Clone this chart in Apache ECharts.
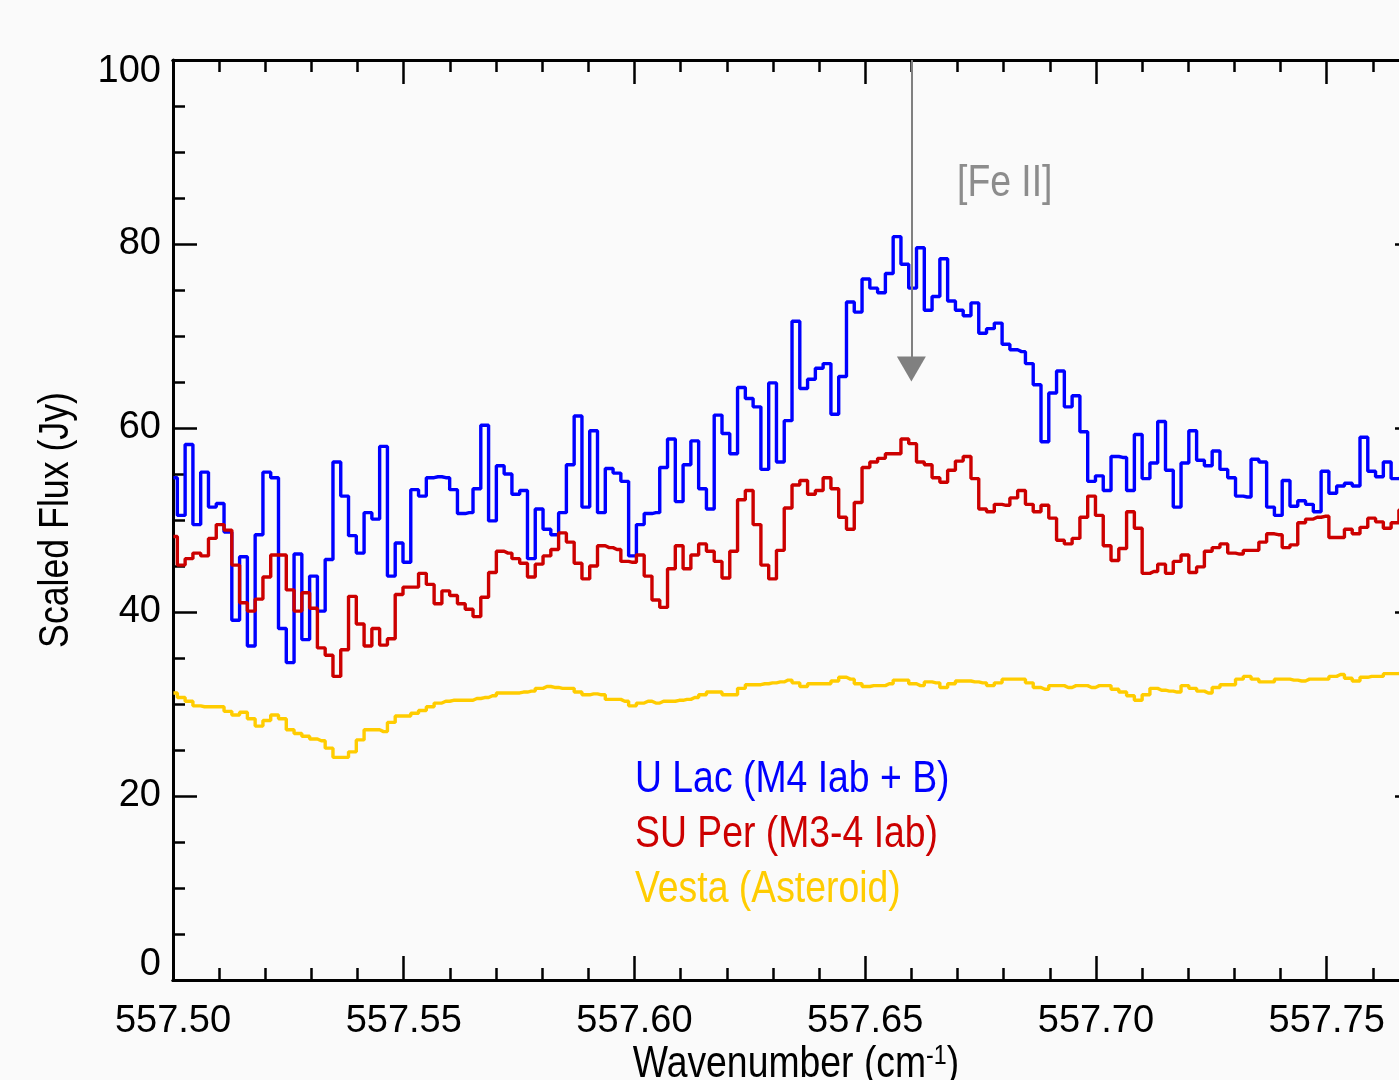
<!DOCTYPE html>
<html>
<head>
<meta charset="utf-8">
<title>Scaled Flux vs Wavenumber</title>
<script src="https://cdn.jsdelivr.net/npm/echarts@6/dist/echarts.min.js"></script>
<style>
  html, body { margin: 0; padding: 0; background: #fafafa; }
  #chart { width: 1399px; height: 1080px; }
</style>
</head>
<body>
<div id="chart"></div>
<script>
// Spectrum bins: first bin centre and bin width (cm^-1)
const FIRST_BIN = 557.5001;
const BIN_WIDTH = 0.001686;

// U Lac (M4 Iab + B)
const uLacFlux = [
  54.6, 50.5, 58.2, 49.5, 55.2, 51.4, 51.8, 48.7, 39.1, 46.0,
  36.3, 48.4, 55.2, 54.6, 38.2, 34.5, 46.3, 37.0, 43.9, 40.1,
  45.7, 56.3, 52.6, 48.3, 46.4, 50.8, 50.1, 58.0, 43.9, 47.5,
  45.4, 53.3, 52.6, 54.6, 54.7, 54.6, 53.3, 50.7, 50.8, 53.4,
  60.3, 49.9, 55.9, 55.0, 52.8, 53.2, 45.8, 51.2, 49.0, 48.4,
  50.8, 56.0, 61.3, 51.4, 59.7, 50.8, 55.6, 55.1, 54.2, 46.1,
  49.5, 50.7, 50.8, 55.7, 58.8, 52.0, 56.0, 58.6, 53.4, 51.2,
  61.4, 59.4, 57.2, 64.4, 63.2, 62.3, 55.5, 64.9, 56.3, 60.8,
  71.6, 64.3, 65.3, 66.5, 67.0, 61.5, 65.6, 73.7, 72.6, 76.2,
  75.2, 74.7, 76.8, 80.8, 77.8, 75.2, 79.6, 72.8, 74.3, 78.4,
  73.8, 72.8, 72.2, 73.6, 70.3, 70.8, 71.4, 69.1, 68.5, 68.3,
  67.0, 64.7, 58.5, 63.8, 66.2, 62.3, 63.5, 59.6, 54.2, 54.8,
  53.2, 56.9, 56.8, 53.2, 59.3, 54.5, 56.2, 60.7, 55.4, 51.4,
  56.2, 59.7, 56.5, 55.9, 57.5, 55.5, 54.6, 52.6, 52.5, 56.6,
  56.3, 51.4, 50.5, 54.3, 51.5, 52.1, 51.7, 50.9, 55.3, 52.9,
  53.7, 54.0, 53.7, 59.0, 55.3, 54.7, 56.3, 54.5, 54.6
];

// SU Per (M3-4 Iab)
const suPerFlux = [
  48.2, 45.1, 45.8, 46.4, 46.1, 48.0, 49.5, 48.9, 45.1, 41.0,
  40.1, 41.4, 43.8, 46.2, 46.2, 42.4, 40.1, 42.1, 40.4, 36.1,
  35.3, 33.0, 35.9, 41.7, 38.7, 36.3, 38.2, 36.4, 37.1, 41.9,
  42.7, 42.7, 44.2, 43.0, 40.9, 42.3, 41.8, 40.9, 40.3, 39.5,
  41.6, 44.3, 46.6, 46.4, 45.8, 45.3, 43.8, 45.2, 46.1, 46.8,
  48.6, 47.6, 45.3, 43.6, 45.0, 47.2, 47.0, 46.8, 45.5, 45.4,
  46.2, 43.9, 41.3, 40.5, 44.7, 47.2, 44.7, 46.2, 47.4, 46.6,
  45.5, 43.7, 46.6, 52.2, 53.2, 49.5, 45.1, 43.6, 46.7, 51.3,
  53.8, 54.3, 52.8, 53.2, 54.6, 53.4, 50.3, 49.0, 51.9, 55.7,
  56.3, 56.7, 57.2, 57.2, 58.8, 58.3, 56.3, 56.0, 54.6, 54.1,
  55.4, 56.4, 56.9, 54.5, 51.2, 50.9, 51.7, 51.6, 52.4, 53.2,
  51.7, 50.9, 51.6, 50.2, 47.8, 47.4, 48.0, 50.3, 52.6, 50.5,
  47.2, 45.6, 46.9, 50.9, 49.1, 44.2, 44.4, 45.2, 44.2, 45.5,
  46.2, 44.3, 44.9, 46.6, 47.0, 47.4, 46.4, 46.3, 46.7, 46.7,
  47.6, 48.5, 48.4, 47.0, 47.3, 49.7, 50.1, 50.3, 50.4, 48.1,
  48.1, 49.0, 48.5, 49.2, 50.2, 49.8, 49.1, 49.7, 51.1
];

// Vesta (Asteroid)
const vestaFlux = [
  31.2, 30.7, 30.3, 29.8, 29.7, 29.7, 29.7, 29.2, 28.8, 29.1,
  28.4, 27.6, 28.2, 28.8, 28.4, 27.2, 26.8, 26.5, 26.2, 26.0,
  25.2, 24.2, 24.2, 24.8, 26.1, 27.2, 27.2, 27.0, 28.0, 28.7,
  28.7, 29.0, 29.3, 29.7, 30.1, 30.3, 30.4, 30.4, 30.4, 30.6,
  30.7, 30.9, 31.2, 31.2, 31.2, 31.3, 31.4, 31.7, 31.9, 31.8,
  31.7, 31.7, 31.3, 31.0, 31.1, 31.0, 30.5, 30.5, 30.3, 29.8,
  30.1, 30.3, 30.1, 30.3, 30.3, 30.4, 30.5, 30.7, 31.0, 31.3,
  31.3, 31.0, 31.0, 31.7, 32.1, 32.1, 32.2, 32.3, 32.4, 32.6,
  32.3, 31.9, 32.2, 32.2, 32.2, 32.5, 32.9, 32.7, 32.2, 31.9,
  32.0, 32.0, 32.2, 32.6, 32.6, 32.2, 32.0, 32.4, 32.3, 31.8,
  32.2, 32.5, 32.5, 32.4, 32.3, 32.0, 32.3, 32.7, 32.7, 32.7,
  32.3, 31.8, 31.6, 32.0, 32.0, 31.8, 32.0, 32.0, 31.8, 32.0,
  32.0, 31.6, 31.3, 30.9, 30.4, 31.0, 31.7, 31.5, 31.4, 31.3,
  32.0, 31.7, 31.4, 31.2, 31.8, 32.1, 32.1, 32.7, 33.0, 32.7,
  32.4, 32.4, 32.7, 32.7, 32.6, 32.5, 32.7, 32.7, 32.7, 33.0,
  33.2, 32.8, 32.5, 32.9, 33.0, 33.0, 33.3, 33.3, 33.4
];

// Axis ranges and ticks
const X_MIN = 557.50;
const X_MAX = 557.77;
const X_MAJOR = 0.05;
const X_MINOR = 0.01;
const Y_MIN = 0;
const Y_MAX = 100;
const Y_MAJOR = 20;

// [Fe II] line marker
const FE_II_WAVENUMBER = 557.66;
const FE_II_ARROW_TOP = 100;
const FE_II_ARROW_END = 66.4;

// no narrow font installed: plain Liberation Sans, squeezed where we can
const FONT = "'Liberation Sans', Arial, sans-serif";
const NARROW = 0.83;

// pair each flux value with its bin centre
function toPoints(flux) {
  return flux.map((v, i) => [FIRST_BIN + i * BIN_WIDTH, v]);
}

function stepSeries(name, flux, color) {
  return {
    name: name,
    type: 'line',
    step: 'middle',
    xAxisIndex: 0,
    yAxisIndex: 0,
    showSymbol: false,
    silent: true,
    animation: false,
    data: toPoints(flux),
    lineStyle: { color: color, width: 3.4 }
  };
}

// one x axis (bottom or top); major axes carry the long ticks
function makeXAxis(position, interval, tickLen, withLabels) {
  return {
    type: 'value',
    position: position,
    min: X_MIN,
    max: X_MAX,
    interval: interval,
    axisLine: { show: true, onZero: false, lineStyle: { color: '#000', width: 3 } },
    axisTick: { show: true, inside: true, length: tickLen, lineStyle: { color: '#000', width: 2.5 } },
    axisLabel: {
      show: withLabels,
      showMaxLabel: false,
      margin: 23,
      color: '#000',
      fontSize: 38,
      fontFamily: FONT,
      formatter: (v) => v.toFixed(2)
    },
    splitLine: { show: false }
  };
}

function makeYAxis(position, withLabels) {
  return {
    type: 'value',
    position: position,
    min: Y_MIN,
    max: Y_MAX,
    interval: Y_MAJOR,
    axisLine: { show: true, lineStyle: { color: '#000', width: 3 } },
    axisTick: { show: true, inside: true, length: 24, lineStyle: { color: '#000', width: 2.5 } },
    minorTick: { show: true, splitNumber: 4, length: 12, lineStyle: { color: '#000', width: 2.5 } },
    axisLabel: {
      show: withLabels,
      margin: 12,
      color: '#000',
      fontSize: 38,
      fontFamily: FONT,
      // IDL keeps the end labels inside the box
      formatter: (v) => (v === Y_MAX ? '{top|' + v + '}' : v === Y_MIN ? '{bot|' + v + '}' : String(v)),
      rich: {
        top: { fontSize: 38, fontFamily: FONT, color: '#000', padding: [24, 0, 0, 0] },
        bot: { fontSize: 38, fontFamily: FONT, color: '#000', padding: [0, 0, 30, 0] }
      }
    },
    splitLine: { show: false }
  };
}

// free text (titles, key, annotation), narrowed to look like the IDL font
function label(text, x, y, color, size, extra) {
  return Object.assign({
    type: 'text',
    silent: true,
    x: x,
    y: y,
    scaleX: NARROW,
    style: {
      text: text,
      verticalAlign: 'middle',
      fill: color,
      fontSize: size,
      fontFamily: FONT
    }
  }, extra || {});
}

function initChart() {
  const chartDom = document.getElementById('chart');
  const myChart = echarts.init(chartDom, null, { renderer: 'canvas' });

  const blue = stepSeries('U Lac (M4 Iab + B)', uLacFlux, '#0000ff');
  blue.markLine = {
    silent: true,
    animation: false,
    symbol: ['none', 'triangle'],
    symbolSize: [29, 25],
    label: { show: false },
    lineStyle: { color: '#808080', width: 2, type: 'solid' },
    itemStyle: { color: '#808080' },
    data: [[
      { coord: [FE_II_WAVENUMBER, FE_II_ARROW_TOP] },
      { coord: [FE_II_WAVENUMBER, FE_II_ARROW_END] }
    ]]
  };

  // x title with superscript
  const xTitle = label('Wavenumber (cm{sup|-1})', 796, 1065, '#000', 45);
  xTitle.style.align = 'center';
  xTitle.style.rich = {
    sup: { fontSize: 28, fontFamily: FONT, fill: '#000', verticalAlign: 'top', padding: [0, 0, 18, 0] }
  };

  const yTitle = label('Scaled Flux (Jy)', 56, 520, '#000', 43, { rotation: Math.PI / 2 });
  yTitle.style.align = 'center';

  const option = {
    animation: false,
    backgroundColor: '#fafafa',
    grid: { left: 173, top: 60, width: 1246, height: 920, outerBoundsMode: 'none', containLabel: false },
    xAxis: [
      makeXAxis('bottom', X_MAJOR, 24, true),
      makeXAxis('bottom', X_MINOR, 12, false),
      makeXAxis('top', X_MAJOR, 24, false),
      makeXAxis('top', X_MINOR, 12, false)
    ],
    yAxis: [makeYAxis('left', true), makeYAxis('right', false)],
    series: [
      blue,
      stepSeries('SU Per (M3-4 Iab)', suPerFlux, '#cc0000'),
      stepSeries('Vesta (Asteroid)', vestaFlux, '#ffcc00')
    ],
    graphic: [
      xTitle,
      yTitle,
      label('[Fe II]', 957, 184, '#8c8c8c', 45),
      label('U Lac (M4 Iab + B)', 635, 780, '#0000ff', 45),
      label('SU Per (M3-4 Iab)', 635, 835, '#cc0000', 45),
      label('Vesta (Asteroid)', 635, 890, '#ffcc00', 45)
    ]
  };

  myChart.setOption(option);
}

document.addEventListener('DOMContentLoaded', function () {
  initChart();
});
</script>
</body>
</html>
